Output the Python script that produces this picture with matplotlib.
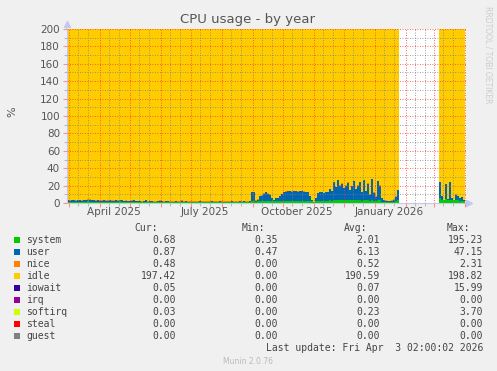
import numpy as np
import matplotlib.pyplot as plt
import matplotlib.dates as mdates
from matplotlib.patches import Rectangle
from matplotlib.ticker import MultipleLocator, NullFormatter

nan = np.nan

# one sample every 2 days, first one on 2025-02-27
start = np.datetime64('2025-02-27')
step = np.timedelta64(2, 'D')
capacity = 200  # 2 cpus -> 200 %

# user %
user_spring = [2.2, 2.0, 2.3, 2.1, 2.0, 2.4, 2.1, 2.0, 2.2, 2.6, 2.1, 2.0, 2.3, 2.1, 2.0, 2.2]
user_may = [2.0, 1.8, 2.1, 1.9, 2.0, 2.2, 1.8, 1.9, 2.3, 1.7,
            1.6, 1.8, 1.5, 1.7, 1.4, 1.5, 1.6, 2.4, 1.4, 1.3]
user_summer = [1.2, 1.0, 1.1, 1.9, 1.0, 1.2, 1.1, 0.9,
               1.0, 1.0, 1.8, 1.1, 0.9, 1.0, 1.2, 0.9,
               0.8, 1.0, 1.1, 0.9, 0.8, 0.9, 1.0, 1.5,
               0.9, 0.8, 0.9, 1.0, 0.8, 0.9, 1.1, 0.9,
               0.8, 1.0, 0.9, 0.8, 1.4, 0.9, 0.8, 0.9,
               1.0, 0.9, 0.8, 0.9, 1.0, 0.9, 1.2, 0.9,
               0.8, 0.9, 1.0, 0.9, 1.1, 0.9, 1.0, 1.2]
user_autumn = [10.0, 9.5, 1.2, 2.0, 5.0, 6.0, 8.0, 9.5, 8.0, 7.0,
               3.0, 1.0, 3.0, 3.0, 5.0, 7.5, 10.0, 10.5, 11.0, 11.0,
               10.5, 11.0, 11.0, 10.5, 11.0, 11.0, 10.5, 10.0, 9.5, 5.0,
               1.0, 0.5, 3.0, 9.0, 9.5, 9.5, 9.0, 9.5, 10.0, 13.0,
               11.0, 21.0, 15.0, 23.0, 17.0, 19.0, 14.0, 17.0, 20.0, 12.0,
               16.0, 22.0, 13.0, 17.0, 21.0, 10.0, 23.0, 11.0, 19.0, 7.0,
               24.0, 9.0, 5.0, 22.0, 17.0, 4.2, 2.2, 1.2, 0.8, 0.8,
               1.2, 2.2, 5.0, 12.0, 9.0]
user_march = [17.7, 3.7, 0.7, 16.7, 1.7, 19.7, 2.7, 0.7, 6.7, 4.7, 3.2, 4.2, 1.2, 0.5]

# system %
system_spring = [0.8, 0.8, 0.9, 0.8, 0.8, 0.9, 0.8, 0.8, 0.9, 0.8, 1.8, 1.6, 0.8, 0.9, 0.8, 0.8]
system_may = [0.8, 0.8, 0.9, 0.8, 0.8, 0.8, 0.9, 0.8, 0.8, 0.8,
              1.8, 1.5, 0.8, 0.8, 0.9, 0.8, 0.8, 0.8, 0.8, 0.9]
system_summer = [0.7, 0.7, 0.8, 1.6, 0.7, 0.7, 0.8, 0.7,
                 0.7, 0.8, 0.7, 0.7, 0.7, 0.8, 0.7, 0.7,
                 0.7, 0.7, 0.8, 0.7, 0.7, 1.6, 0.7, 0.7,
                 0.7, 0.8, 0.7, 0.7, 0.7, 0.7, 0.8, 0.7,
                 0.7, 0.7, 0.7, 0.8, 0.7, 0.7, 0.7, 0.7,
                 0.8, 0.7, 0.7, 0.7, 0.7, 0.8, 0.7, 0.7,
                 0.7, 0.7, 0.8, 0.7, 0.7, 0.7, 0.7, 0.8]
system_autumn = [2.8, 2.7, 1.5, 2.0, 2.5, 2.6, 2.7, 2.8, 2.7, 2.7,
                 2.5, 2.3, 2.5, 2.6, 2.7, 2.7, 2.8, 2.7, 2.8, 2.7,
                 2.7, 2.8, 2.7, 2.7, 2.8, 2.7, 2.7, 2.8, 2.7, 2.5,
                 2.2, 0.7, 2.3, 2.7, 2.8, 2.7, 2.7, 2.8, 2.7, 3.0,
                 2.8, 3.2, 3.0, 3.4, 3.0, 3.2, 2.9, 3.1, 3.3, 2.9,
                 3.0, 3.3, 2.9, 3.1, 3.3, 2.8, 3.4, 2.9, 3.2, 2.6,
                 3.5, 2.8, 2.4, 3.3, 3.0, 1.5, 1.5, 1.4, 1.5, 1.5,
                 1.5, 1.6, 2.3, 3.0, 2.8]
system_march = [6.0, 4.0, 3.0, 5.0, 3.0, 4.0, 3.0, 3.0, 3.0, 3.0, 2.5, 2.5, 2.5, 2.5]

gap = [nan] * 19  # no data end of Jan -> early March

user = user_spring + user_may + user_summer + user_autumn + gap + user_march
system = system_spring + system_may + system_summer + system_autumn + gap + system_march
nice = [0.5] * 92 + [0.3] * 75 + gap + [0.3] * 14

# legend table
names = ["system", "user", "nice", "idle", "iowait", "irq", "softirq", "steal", "guest"]
colors = ["#00CC00", "#0066B3", "#FF8000", "#FFCC00", "#330099",
          "#990099", "#CCFF00", "#FF0000", "#808080"]
cur = ["0.68", "0.87", "0.48", "197.42", "0.05", "0.00", "0.03", "0.00", "0.00"]
mins = ["0.35", "0.47", "0.00", "0.00", "0.00", "0.00", "0.00", "0.00", "0.00"]
avgs = ["2.01", "6.13", "0.52", "190.59", "0.07", "0.00", "0.23", "0.00", "0.00"]
maxs = ["195.23", "47.15", "2.31", "198.82", "15.99", "0.00", "3.70", "0.00", "0.00"]

month_labels = ["April 2025", "July 2025", "October 2025", "January 2026"]
label_dates = ["2025-04-15", "2025-07-15", "2025-10-15", "2026-01-15"]

W, H = 497, 371
fig = plt.figure(figsize=(W / 100, H / 100), dpi=100, facecolor="#F0F0F0")
ax = fig.add_axes([67 / W, 1 - 203 / H, (466 - 67) / W, (203 - 29) / H])
ax.set_facecolor("white")

t = start + np.arange(len(user)) * step
sys_a = np.array(system)
usr_a = np.array(user)
nice_a = np.array(nice)
idle_a = capacity - sys_a - usr_a - nice_a

bottom = np.zeros(len(t))
for vals, c in [(sys_a, colors[0]), (usr_a, colors[1]), (nice_a, colors[2]), (idle_a, colors[3])]:
    ax.fill_between(t, bottom, bottom + vals, step="post", color=c, lw=0, zorder=1)
    bottom = bottom + vals

ax.set_xlim(np.datetime64('2025-02-27'), np.datetime64('2026-04-02'))
ax.set_ylim(0, 200)

ax.xaxis.set_major_locator(mdates.MonthLocator())
ax.xaxis.set_minor_locator(mdates.DayLocator(bymonthday=[10, 20]))
ax.xaxis.set_major_formatter(NullFormatter())
ax.yaxis.set_major_locator(MultipleLocator(20))
ax.yaxis.set_minor_locator(MultipleLocator(10))

ax.grid(which="major", color=(1, 0.2, 0.2, 0.28), linestyle=(0, (1, 2)), lw=0.6, zorder=3)
ax.grid(which="minor", color=(0.5, 0.5, 0.5, 0.25), linestyle=(0, (1, 2)), lw=0.6, zorder=3)
ax.set_axisbelow(False)

ax.tick_params(which="major", color="#FF9090", length=3, width=0.8, labelsize=7.5,
               labelcolor="#555555", pad=2)
ax.tick_params(which="minor", color="#BBBBBB", length=2, width=0.8)

for s in ["top", "right"]:
    ax.spines[s].set_visible(False)
for s in ["left", "bottom"]:
    ax.spines[s].set_color("#C8C8E8")
    ax.spines[s].set_linewidth(0.8)

# axis arrows
ax.plot([1.008], [0], marker=">", color="#C0C8F8", ms=5, transform=ax.transAxes, clip_on=False)
ax.plot([0], [1.03], marker="^", color="#C0C8F8", ms=5, transform=ax.transAxes, clip_on=False)

for lab, d in zip(month_labels, label_dates):
    ax.text(np.datetime64(d), -0.053, lab, transform=ax.get_xaxis_transform(),
            ha="center", va="center", fontsize=7.5, color="#555555")

def px(x, y):
    return x / W, 1 - y / H

fig.text(*px(248, 19), "CPU usage - by year", ha="center", va="center",
         fontsize=9.5, color="#555555")
fig.text(*px(12, 112), "%", ha="center", va="center", rotation=90,
         fontsize=8, color="#555555")
fig.text(*px(488, 55), "RRDTOOL / TOBI OETIKER", ha="center", va="center",
         rotation=270, fontsize=5.5, color="#CCCCCC")

mono = dict(family="DejaVu Sans Mono", fontsize=7, color="#444444", va="center")
for hx, h in zip([158, 265, 367, 470], ["Cur:", "Min:", "Avg:", "Max:"]):
    fig.text(*px(hx, 228), h, ha="right", **mono)

for i, name in enumerate(names):
    y = 240 + 12 * i
    fig.add_artist(Rectangle(px(14, y + 3), 6 / W, 6 / H, transform=fig.transFigure,
                             color=colors[i], lw=0))
    fig.text(*px(26, y), name, ha="left", **mono)
    for vx, v in zip([176, 278, 380, 483], [cur[i], mins[i], avgs[i], maxs[i]]):
        fig.text(*px(vx, y), v, ha="right", **mono)

fig.text(*px(483, 348), "Last update: Fri Apr  3 02:00:02 2026", ha="right", **mono)
fig.text(*px(248, 361), "Munin 2.0.76", ha="center", va="center", fontsize=5.5, color="#BBBBBB")

fig.savefig("out.png", dpi=100, facecolor=fig.get_facecolor())
